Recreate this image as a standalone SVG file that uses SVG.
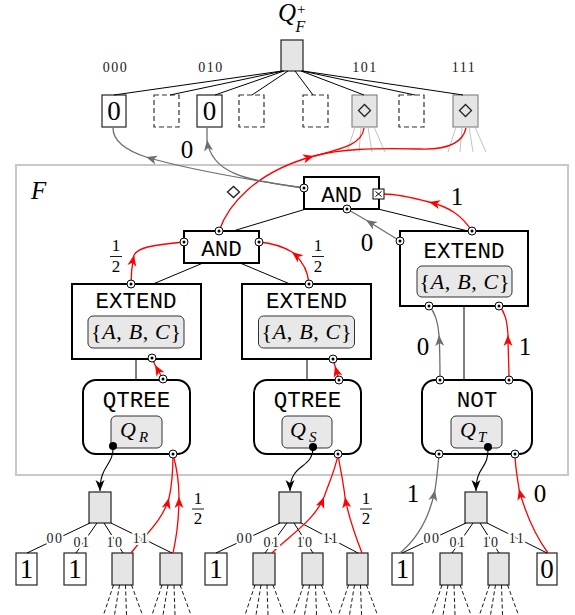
<svg xmlns="http://www.w3.org/2000/svg" width="575" height="615" viewBox="0 0 575 615">
<defs>
<style>
.bx{fill:#fff;stroke:#000;stroke-width:2}
.lf{fill:#fff;stroke:#222;stroke-width:1.2}
.gl{fill:#e5e5e5;stroke:#222;stroke-width:1.2}
.gt{fill:#e5e5e5;stroke:#888;stroke-width:1.2}
.dsh{fill:#fff;stroke:#333;stroke-width:1.2;stroke-dasharray:5 3}
.in{fill:#e8e8e8;stroke:#333;stroke-width:1}
.tt{font-family:"Liberation Mono","DejaVu Sans Mono",monospace;font-size:22.5px;text-anchor:middle;fill:#000}
.mi{font-family:"Liberation Serif",serif;font-style:italic;fill:#000}
.rm{font-family:"Liberation Serif",serif;text-anchor:middle;fill:#000}
.sm{font-family:"Liberation Serif",serif;font-size:14px;letter-spacing:1.5px;text-anchor:middle;fill:#222}
.halo{stroke:#fff;stroke-width:4;paint-order:stroke}
.ln{fill:none;stroke:#000;stroke-width:1}
.red{fill:none;stroke:#f00;stroke-width:1.3}
.gry{fill:none;stroke:#6e6e6e;stroke-width:1.3}
.blk{fill:none;stroke:#000;stroke-width:1.1}
.fan{fill:none;stroke:#bbb;stroke-width:0.9}
.dfan{fill:none;stroke:#000;stroke-width:0.9;stroke-dasharray:4 2.5}
.dia{fill:none;stroke:#222;stroke-width:1.3}
</style>
<marker id="aR" viewBox="-12 -6 13 12" refX="0" refY="0" markerWidth="13" markerHeight="12" markerUnits="userSpaceOnUse" orient="auto"><path d="M0,0 L-11,-4.5 L-8,0 L-11,4.5 Z" fill="#f00"/></marker>
<marker id="aG" viewBox="-12 -6 13 12" refX="0" refY="0" markerWidth="13" markerHeight="12" markerUnits="userSpaceOnUse" orient="auto"><path d="M0,0 L-11,-4.5 L-8,0 L-11,4.5 Z" fill="#6e6e6e"/></marker>
<marker id="aK" viewBox="-12 -6 13 12" refX="0" refY="0" markerWidth="13" markerHeight="12" markerUnits="userSpaceOnUse" orient="auto"><path d="M0,0 L-11,-4.5 L-8,0 L-11,4.5 Z" fill="#000"/></marker>
<g id="port"><circle r="4" fill="#fff" stroke="#000" stroke-width="1"/><circle r="1.5" fill="#000"/></g>
</defs>
<rect width="575" height="615" fill="#fff"/>

<!-- frame F -->
<g id="frame">
<rect x="16" y="165" width="552" height="310" fill="none" stroke="#c8c8c8" stroke-width="2"/>
<text class="mi" x="31" y="199" font-size="25">F</text>
<path class="dia" d="M227.5,192 L233.5,186.5 L239.5,192 L233.5,197.5 Z"/>
</g>

<!-- top tree Q_F^+ -->
<g id="qf-root">
<text class="mi" x="278" y="21" font-size="25">Q<tspan font-size="15" font-style="normal" dx="1" dy="-7">+</tspan><tspan font-size="16" dx="-10" dy="18">F</tspan></text>
<rect class="gl" x="281" y="40" width="22" height="31"/>
</g>
<g id="qf-labels">
<text class="sm" x="115.5" y="72">000</text>
<text class="sm" x="211" y="72">010</text>
<text class="sm" x="365" y="72">101</text>
<text class="sm" x="464" y="72">111</text>
</g>
<g id="qf-leaf-000"><rect class="lf" x="102" y="95" width="24" height="32"/><text class="rm" x="114" y="120" font-size="27">0</text></g>
<g id="qf-leaf-001"><rect class="dsh" x="154" y="95" width="25" height="32"/></g>
<g id="qf-leaf-010"><rect class="lf" x="197" y="95" width="25" height="32"/><text class="rm" x="209.5" y="120" font-size="27">0</text></g>
<g id="qf-leaf-011"><rect class="dsh" x="239" y="95" width="25" height="32"/></g>
<g id="qf-leaf-100"><rect class="dsh" x="303" y="95" width="25" height="32"/></g>
<g id="qf-leaf-101"><rect class="gt" x="352" y="95" width="25" height="32"/><path class="dia" d="M358.5,110.5 L364.5,104.5 L370.5,110.5 L364.5,116.5 Z"/>
<path class="fan" d="M355,127 L347,152 M361,127 L359,152 M368,127 L372,152 M374,127 L385,152"/></g>
<g id="qf-leaf-110"><rect class="dsh" x="399" y="95" width="25" height="32"/></g>
<g id="qf-leaf-111"><rect class="gt" x="453" y="95" width="25" height="32"/><path class="dia" d="M459.5,110.5 L465.5,104.5 L471.5,110.5 L465.5,116.5 Z"/>
<path class="fan" d="M456,127 L448,152 M462,127 L460,152 M469,127 L473,152 M475,127 L486,152"/></g>

<!-- operator nodes -->
<g id="and-top"><rect class="bx" x="304" y="177" width="75" height="32"/><text class="tt" x="341.5" y="202">AND</text></g>
<g id="and-left"><rect class="bx" x="184" y="231" width="75" height="32"/><text class="tt" x="221.5" y="256">AND</text></g>
<g id="extend-1"><rect class="bx" x="72" y="284" width="129" height="75"/><text class="tt" x="136" y="308">EXTEND</text>
<rect class="in" x="88" y="316" width="96" height="32" rx="5"/>
<text class="rm" x="136" y="339" font-size="22" textLength="90" lengthAdjust="spacing">{<tspan class="mi">A</tspan>, <tspan class="mi">B</tspan>, <tspan class="mi">C</tspan>}</text></g>
<g id="extend-2"><rect class="bx" x="242" y="284" width="129" height="75"/><text class="tt" x="306.5" y="308">EXTEND</text>
<rect class="in" x="258.5" y="316" width="96" height="32" rx="5"/>
<text class="rm" x="306.5" y="339" font-size="22" textLength="90" lengthAdjust="spacing">{<tspan class="mi">A</tspan>, <tspan class="mi">B</tspan>, <tspan class="mi">C</tspan>}</text></g>
<g id="extend-3"><rect class="bx" x="400" y="231" width="128" height="75"/><text class="tt" x="464" y="258">EXTEND</text>
<rect class="in" x="417" y="266" width="95" height="31" rx="5"/>
<text class="rm" x="464.5" y="289" font-size="22" textLength="90" lengthAdjust="spacing">{<tspan class="mi">A</tspan>, <tspan class="mi">B</tspan>, <tspan class="mi">C</tspan>}</text></g>
<g id="qtree-r"><rect class="bx" x="83" y="380" width="107" height="74" rx="13"/><text class="tt" x="136.5" y="407">QTREE</text>
<rect class="in" x="111" y="416" width="51" height="32" rx="5"/>
<text class="mi" x="120" y="437" font-size="22">Q</text><text class="mi" x="139" y="442" font-size="15">R</text></g>
<g id="qtree-s"><rect class="bx" x="254" y="380" width="107" height="74" rx="13"/><text class="tt" x="307.5" y="407">QTREE</text>
<rect class="in" x="282" y="416" width="50" height="32" rx="5"/>
<text class="mi" x="290" y="437" font-size="22">Q</text><text class="mi" x="309" y="442" font-size="15">S</text></g>
<g id="not"><rect class="bx" x="422" y="380" width="110" height="74" rx="13"/><text class="tt" x="477" y="407">NOT</text>
<rect class="in" x="451" y="416" width="51" height="32" rx="5"/>
<text class="mi" x="460" y="437" font-size="22">Q</text><text class="mi" x="478" y="442" font-size="15">T</text></g>

<!-- bottom trees -->
<g id="tree-r-root"><rect class="gl" x="89" y="492" width="22" height="31"/></g>
<g id="tree-r-00"><rect class="lf" x="16" y="553" width="21" height="32"/><text class="rm" x="26.5" y="578" font-size="27">1</text></g>
<g id="tree-r-01"><rect class="lf" x="64" y="553" width="22" height="32"/><text class="rm" x="75" y="578" font-size="27">1</text></g>
<g id="tree-r-10"><rect class="gl" x="112" y="553" width="21" height="32"/><path class="dfan" d="M113.5,585 L103.5,615 M119.5,585 L114.5,615 M125.5,585 L126.5,615 M131.5,585 L142.5,615"/></g>
<g id="tree-r-11"><rect class="gl" x="160" y="553" width="22" height="32"/><path class="dfan" d="M162,585 L152,615 M168,585 L163,615 M174,585 L175,615 M180,585 L191,615"/></g>

<g id="tree-s-root"><rect class="gl" x="279" y="492" width="22" height="31"/></g>
<g id="tree-s-00"><rect class="lf" x="205" y="553" width="22" height="32"/><text class="rm" x="216" y="578" font-size="27">1</text></g>
<g id="tree-s-01"><rect class="gl" x="253" y="553" width="22" height="32"/><path class="dfan" d="M255,585 L245,615 M261,585 L256,615 M267,585 L268,615 M273,585 L284,615"/></g>
<g id="tree-s-10"><rect class="gl" x="302" y="553" width="21" height="32"/><path class="dfan" d="M303.5,585 L293.5,615 M309.5,585 L304.5,615 M315.5,585 L316.5,615 M321.5,585 L332.5,615"/></g>
<g id="tree-s-11"><rect class="gl" x="347" y="553" width="21" height="32"/><path class="dfan" d="M348.5,585 L338.5,615 M354.5,585 L349.5,615 M360.5,585 L361.5,615 M366.5,585 L377.5,615"/></g>

<g id="tree-t-root"><rect class="gl" x="465" y="492" width="22" height="31"/></g>
<g id="tree-t-00"><rect class="lf" x="392" y="553" width="21" height="32"/><text class="rm" x="402.5" y="578" font-size="27">1</text></g>
<g id="tree-t-01"><rect class="gl" x="440" y="553" width="22" height="32"/><path class="dfan" d="M442,585 L432,615 M448,585 L443,615 M454,585 L455,615 M460,585 L471,615"/></g>
<g id="tree-t-10"><rect class="gl" x="488" y="553" width="21" height="32"/><path class="dfan" d="M489.5,585 L479.5,615 M495.5,585 L490.5,615 M501.5,585 L502.5,615 M507.5,585 L518.5,615"/></g>
<g id="tree-t-11"><rect class="lf" x="537" y="553" width="20" height="32"/><text class="rm" x="547" y="578" font-size="27">0</text></g>

<!-- connectors -->
<g id="connectors">
<path class="ln" d="M282,71 L114,95 M283,71 L170,95 M284,71 L215,95 M288,71 L252,95 M295,71 L313,95 M301,71 L364,95 M302,71 L415,95 M303,71 L463,95"/>
<path class="ln" d="M233,231 L306,209 M378,209 L468,231 M203,263 L153,284 M240,263 L290,284"/>
<path class="ln" stroke="#333" d="M136,359 L136,380 M307,359 L307,380 M464,306 L464,380"/>
<path class="ln" d="M90,523 L27,553 M97,523 L76,553 M104,523 L123,553 M111,523 L172,553"/>
<path class="ln" d="M280,523 L216,553 M287,523 L265,553 M294,523 L313,553 M301,523 L358,553"/>
<path class="ln" d="M466,523 L402,553 M473,523 L452,553 M480,523 L499,553 M487,523 L547,553"/>

<path class="red" marker-end="url(#aR)" d="M219,231 C228,205 255,172 314,156"/>
<path class="red" d="M314,156 C340,149 362,145 364,128"/>
<path class="red" d="M314,156 C340,149 370,148 420,149 C450,150 463,142 466,128"/>
<path class="red" marker-end="url(#aR)" d="M472,231 C462,216 450,207 429,202"/>
<path class="red" d="M429,202 C410,197 395,194 384,194"/>
<path class="red" marker-end="url(#aR)" d="M131,284 C131,275 132,265 134,255"/>
<path class="red" d="M134,255 C138,248 150,245 184,242"/>
<path class="red" marker-end="url(#aR)" d="M309,284 C308,270 302,260 292,252"/>
<path class="red" d="M292,252 C282,246 270,243 259,242"/>
<path class="red" marker-end="url(#aR)" d="M163,379 L155,365"/>
<path class="red" d="M155,365 L152,358"/>
<path class="red" marker-end="url(#aR)" d="M339,380 L335,366"/>
<path class="red" d="M335,366 L333,359"/>
<path class="red" marker-end="url(#aR)" d="M509,380 C509,365 508,350 508,335"/>
<path class="red" d="M508,335 C507,320 505,312 499,306"/>
<path class="red" marker-end="url(#aR)" d="M131,553 C145,535 163,520 169,498"/>
<path class="red" d="M169,498 C172,485 173,470 173,454"/>
<path class="red" marker-end="url(#aR)" d="M173,553 C177,535 179,515 179,497"/>
<path class="red" d="M179,497 C179,480 176,465 173,454"/>
<path class="red" marker-end="url(#aR)" d="M272,553 C290,535 315,520 324,497"/>
<path class="red" d="M324,497 C330,480 336,468 338,454"/>
<path class="red" marker-end="url(#aR)" d="M362,553 C355,535 348,515 345,497"/>
<path class="red" d="M345,497 C343,480 340,468 338,454"/>
<path class="red" marker-end="url(#aR)" d="M548,553 C535,535 525,512 519,489"/>
<path class="red" d="M519,489 C517,475 515,465 515,454"/>

<path class="gry" marker-end="url(#aG)" d="M304,188 C250,180 190,170 146,157"/>
<path class="gry" d="M146,157 C125,150 113,140 113,128"/>
<path class="gry" marker-end="url(#aG)" d="M304,188 C250,180 212,176 207,140"/>
<path class="gry" d="M207,140 L207,128"/>
<path class="gry" marker-end="url(#aG)" d="M400,241 L366,220"/>
<path class="gry" d="M366,220 L347,209"/>
<path class="gry" marker-end="url(#aG)" d="M440,380 C440,365 440,350 439,335"/>
<path class="gry" d="M439,335 C438,322 435,312 429,306"/>
<path class="gry" marker-end="url(#aG)" d="M400,553 C418,538 430,515 435,490"/>
<path class="gry" d="M435,490 C437,478 438,465 439,454"/>

<path class="blk" marker-end="url(#aK)" d="M113,446 C114,466 100,464 100,491"/>
<path class="blk" marker-end="url(#aK)" d="M313,447 C313,470 290,462 290,491"/>
<path class="blk" marker-end="url(#aK)" d="M488,447 C489,470 476,465 476,491"/>
</g>

<!-- edge labels -->
<g id="edge-labels">
<text class="sm halo" x="55" y="543">00</text><text class="sm halo" x="82" y="547">01</text><text class="sm halo" x="115" y="547">10</text><text class="sm halo" x="141" y="543">11</text>
<text class="sm halo" x="245" y="543">00</text><text class="sm halo" x="272" y="547">01</text><text class="sm halo" x="305" y="547">10</text><text class="sm halo" x="331" y="543">11</text>
<text class="sm halo" x="432" y="543">00</text><text class="sm halo" x="458" y="547">01</text><text class="sm halo" x="491" y="547">10</text><text class="sm halo" x="517" y="543">11</text>
<text class="rm" x="187" y="158" font-size="25">0</text>
<text class="rm" x="457" y="205" font-size="25">1</text>
<text class="rm" x="367" y="251" font-size="25">0</text>
<text class="rm" x="423" y="355" font-size="25">0</text>
<text class="rm" x="525" y="355" font-size="25">1</text>
<text class="rm" x="413" y="502" font-size="25">1</text>
<text class="rm" x="540" y="502" font-size="25">0</text>
<g font-size="17">
<text class="rm" x="116" y="251">1</text><path d="M110,256.5 H122" stroke="#000" stroke-width="0.9"/><text class="rm" x="116" y="272">2</text>
<text class="rm" x="318" y="251">1</text><path d="M312,256.5 H324" stroke="#000" stroke-width="0.9"/><text class="rm" x="318" y="272">2</text>
<text class="rm" x="198" y="504">1</text><path d="M192,509 H204" stroke="#000" stroke-width="0.9"/><text class="rm" x="198" y="524">2</text>
<text class="rm" x="366" y="504">1</text><path d="M360,509 H372" stroke="#000" stroke-width="0.9"/><text class="rm" x="366" y="524">2</text>
</g>
</g>

<!-- ports -->
<g id="ports">
<use href="#port" x="304" y="188"/><use href="#port" x="347" y="209"/>
<use href="#port" x="219" y="231"/><use href="#port" x="184" y="242"/><use href="#port" x="259" y="242"/>
<use href="#port" x="131" y="284"/><use href="#port" x="152" y="358"/>
<use href="#port" x="309" y="284"/><use href="#port" x="333" y="359"/>
<use href="#port" x="472" y="231"/><use href="#port" x="400" y="241"/><use href="#port" x="429" y="306"/><use href="#port" x="499" y="306"/>
<use href="#port" x="163" y="379"/><use href="#port" x="173" y="454"/>
<use href="#port" x="339" y="380"/><use href="#port" x="338" y="454"/>
<use href="#port" x="440" y="380"/><use href="#port" x="509" y="380"/><use href="#port" x="439" y="454"/><use href="#port" x="515" y="454"/>
<circle cx="113" cy="446" r="4" fill="#000"/>
<circle cx="313" cy="447" r="4" fill="#000"/>
<circle cx="488" cy="447" r="4" fill="#000"/>
<rect x="373" y="189" width="11" height="10" fill="#fff" stroke="#000" stroke-width="1"/>
<path d="M375.5,191.5 L381.5,196.5 M381.5,191.5 L375.5,196.5" stroke="#000" stroke-width="1"/>
</g>
</svg>
